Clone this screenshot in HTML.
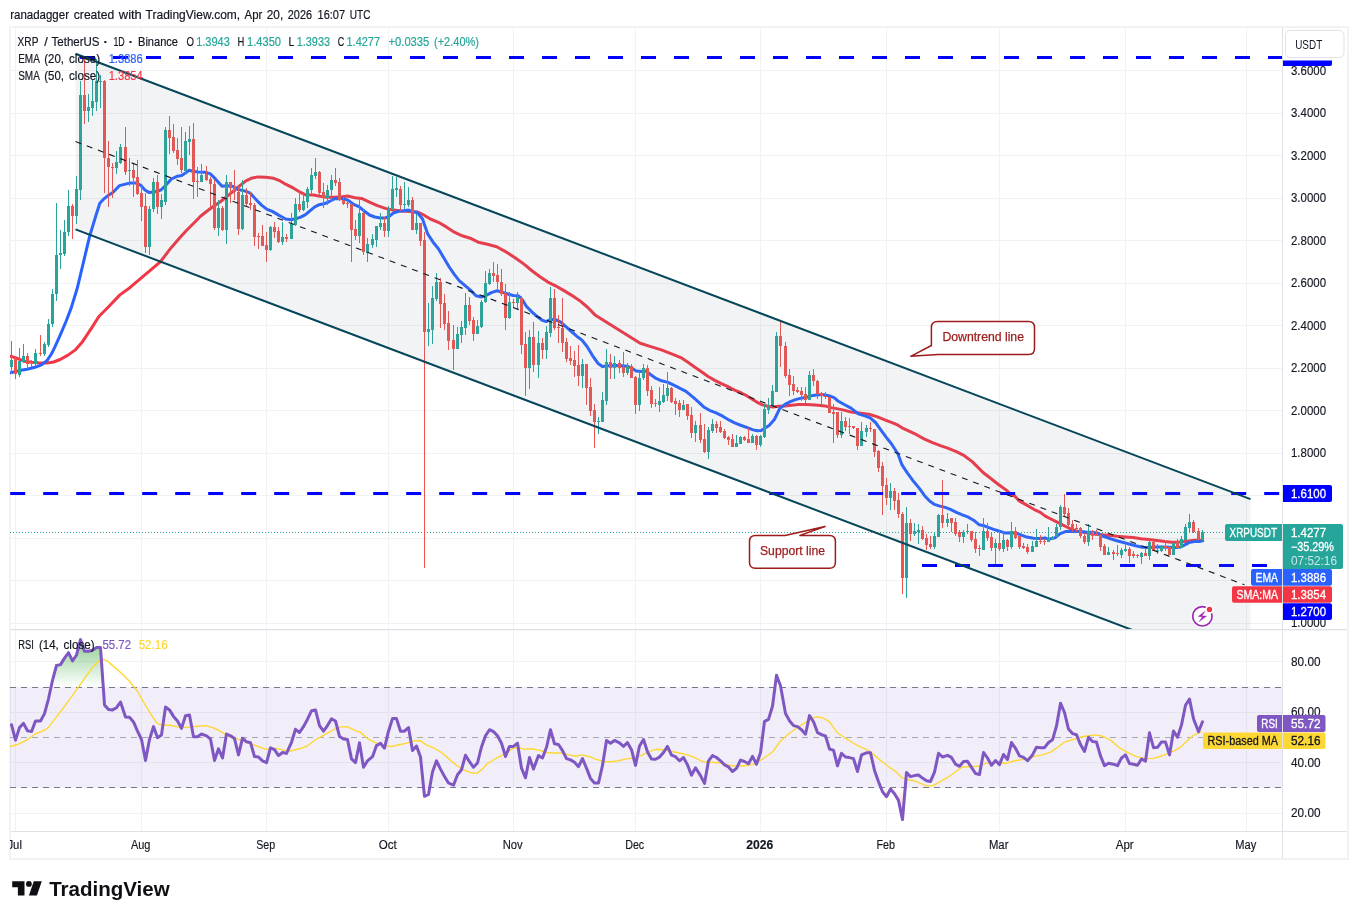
<!DOCTYPE html><html><head><meta charset="utf-8"><title>XRP / TetherUS chart</title>
<style>html,body{margin:0;padding:0;background:#fff;}body{width:1358px;height:919px;overflow:hidden;}svg{display:block;font-family:"Liberation Sans", sans-serif;}text{white-space:pre;}</style></head><body>
<svg width="1358" height="919" viewBox="0 0 1358 919">
<rect width="1358" height="919" fill="#fff"/>
<defs>
<clipPath id="cm"><rect x="10.0" y="27.5" width="1272.5" height="602.0"/></clipPath>
<clipPath id="cr"><rect x="10.0" y="630.5" width="1272.5" height="201.0"/></clipPath>
<clipPath id="ct"><rect x="10.0" y="831.5" width="1272.5" height="27.0"/></clipPath>
<linearGradient id="obg" gradientUnits="userSpaceOnUse" x1="0" y1="611.5" x2="0" y2="687.1"><stop offset="0" stop-color="#4caf50" stop-opacity="1"/><stop offset="1" stop-color="#4caf50" stop-opacity="0"/></linearGradient>
<linearGradient id="osg" gradientUnits="userSpaceOnUse" x1="0" y1="787.7" x2="0" y2="863.2"><stop offset="0" stop-color="#ff5252" stop-opacity="0"/><stop offset="1" stop-color="#ff5252" stop-opacity="1"/></linearGradient>
</defs>
<rect x="10.1" y="27.1" width="1337.9" height="831.9" fill="none" stroke="#f1f2f3" stroke-width="1.9"/>
<text y="18.9" font-size="12.8" fill="#131722" stroke="#131722" stroke-width="0.2"><tspan x="10.2" textLength="58.8" lengthAdjust="spacingAndGlyphs">ranadagger</tspan> <tspan x="73.8" textLength="40.4" lengthAdjust="spacingAndGlyphs">created</tspan> <tspan x="118.8" textLength="23.0" lengthAdjust="spacingAndGlyphs">with</tspan> <tspan x="145.6" textLength="94.6" lengthAdjust="spacingAndGlyphs">TradingView.com,</tspan> <tspan x="244.6" textLength="17.7" lengthAdjust="spacingAndGlyphs">Apr</tspan> <tspan x="266.8" textLength="16.4" lengthAdjust="spacingAndGlyphs">20,</tspan> <tspan x="287.8" textLength="24.2" lengthAdjust="spacingAndGlyphs">2026</tspan> <tspan x="317.6" textLength="27.4" lengthAdjust="spacingAndGlyphs">16:07</tspan> <tspan x="349.8" textLength="20.7" lengthAdjust="spacingAndGlyphs">UTC</tspan></text>
<g stroke="#f0f2f3" stroke-width="1" shape-rendering="crispEdges">
<line x1="15.5" y1="27.5" x2="15.5" y2="831.5"/>
<line x1="141.5" y1="27.5" x2="141.5" y2="831.5"/>
<line x1="266.5" y1="27.5" x2="266.5" y2="831.5"/>
<line x1="388.5" y1="27.5" x2="388.5" y2="831.5"/>
<line x1="513.5" y1="27.5" x2="513.5" y2="831.5"/>
<line x1="635.5" y1="27.5" x2="635.5" y2="831.5"/>
<line x1="760.5" y1="27.5" x2="760.5" y2="831.5"/>
<line x1="886.5" y1="27.5" x2="886.5" y2="831.5"/>
<line x1="999.5" y1="27.5" x2="999.5" y2="831.5"/>
<line x1="1125.5" y1="27.5" x2="1125.5" y2="831.5"/>
<line x1="1246.5" y1="27.5" x2="1246.5" y2="831.5"/>
<line x1="10.0" y1="623.5" x2="1282.5" y2="623.5"/>
<line x1="10.0" y1="580.5" x2="1282.5" y2="580.5"/>
<line x1="10.0" y1="538.5" x2="1282.5" y2="538.5"/>
<line x1="10.0" y1="495.5" x2="1282.5" y2="495.5"/>
<line x1="10.0" y1="453.5" x2="1282.5" y2="453.5"/>
<line x1="10.0" y1="410.5" x2="1282.5" y2="410.5"/>
<line x1="10.0" y1="368.5" x2="1282.5" y2="368.5"/>
<line x1="10.0" y1="325.5" x2="1282.5" y2="325.5"/>
<line x1="10.0" y1="283.5" x2="1282.5" y2="283.5"/>
<line x1="10.0" y1="240.5" x2="1282.5" y2="240.5"/>
<line x1="10.0" y1="198.5" x2="1282.5" y2="198.5"/>
<line x1="10.0" y1="155.5" x2="1282.5" y2="155.5"/>
<line x1="10.0" y1="113.5" x2="1282.5" y2="113.5"/>
<line x1="10.0" y1="70.5" x2="1282.5" y2="70.5"/>
<line x1="10.0" y1="813.5" x2="1282.5" y2="813.5"/>
<line x1="10.0" y1="762.5" x2="1282.5" y2="762.5"/>
<line x1="10.0" y1="712.5" x2="1282.5" y2="712.5"/>
<line x1="10.0" y1="661.5" x2="1282.5" y2="661.5"/>
</g>
<g clip-path="url(#cm)">
<line x1="10.0" y1="532.5" x2="1282.5" y2="532.5" stroke="#26a69a" stroke-width="1" stroke-dasharray="1 2" shape-rendering="crispEdges"/>
<polyline points="10.5,356.2 16.0,357.9 23.8,361.2 31.5,362.3 38.1,362.8 47.0,363.1 53.6,362.0 60.2,359.5 68.0,355.1 75.7,349.6 82.3,341.9 91.2,328.6 98.9,316.5 108.8,306.5 119.9,294.9 129.8,287.7 160.3,261.8 171.4,247.4 180.0,237.5 186.9,230.0 194.2,222.7 200.8,216.0 210.1,208.7 220.7,201.5 231.3,192.8 239.2,186.2 245.9,180.9 251.2,178.3 257.8,176.9 265.7,177.2 273.7,178.3 279.0,180.3 285.6,184.2 293.6,188.2 300.2,192.2 305.5,194.8 313.5,195.1 320.1,196.2 326.7,197.2 334.8,197.2 342.1,196.8 348.3,196.1 354.9,197.8 361.5,198.4 369.5,202.2 377.4,205.7 385.4,208.4 393.3,210.1 401.3,211.0 409.2,211.4 417.2,212.0 422.5,214.3 430.4,219.0 438.4,222.3 446.3,226.9 454.3,232.2 462.2,235.8 470.2,238.2 478.2,242.2 487.4,244.2 496.7,246.8 506.9,252.4 515.4,258.0 523.7,263.9 531.6,270.5 539.6,276.5 547.5,281.8 555.5,285.8 563.5,290.4 571.4,295.1 579.4,300.4 587.3,307.0 595.0,314.9 640.2,343.3 650.8,346.6 661.4,349.9 673.5,354.6 680.8,357.6 688.3,362.5 694.9,367.2 701.5,371.8 708.1,376.5 714.8,380.4 721.4,383.7 728.0,386.7 734.6,390.1 741.3,393.0 746.6,395.7 751.9,399.0 757.2,402.3 762.5,404.9 767.8,406.3 773.1,406.9 778.4,406.3 785.0,405.9 791.6,405.2 798.3,404.6 804.9,404.4 811.5,404.7 818.2,405.2 824.8,405.9 831.4,407.6 838.0,408.9 844.8,410.4 851.5,412.1 855.0,412.6 860.9,413.3 868.9,414.3 876.8,416.6 884.8,419.9 892.7,422.8 898.0,425.2 902.0,427.8 908.6,430.8 916.6,434.7 924.5,439.1 932.5,442.7 940.4,445.7 948.4,448.4 956.3,451.7 964.3,455.7 972.2,461.6 977.5,466.9 982.8,472.2 990.8,478.5 998.8,484.8 1006.7,490.4 1010.8,494.6 1014.7,496.1 1018.8,500.6 1025.9,504.6 1035.5,510.2 1040.3,512.4 1045.3,516.1 1050.9,519.0 1056.2,521.7 1061.5,524.3 1066.8,527.0 1072.1,529.6 1077.4,531.2 1084.0,532.3 1090.7,533.4 1097.3,534.3 1103.9,534.9 1110.6,535.6 1117.2,536.3 1125.1,536.9 1133.1,537.6 1141.0,538.7 1149.0,539.6 1156.9,540.5 1164.9,541.6 1171.5,542.2 1178.2,542.2 1183.5,541.6 1188.8,540.9 1194.1,540.3 1199.4,540.3 1202.7,540.5" fill="none" stroke="#f23645" stroke-width="3.0" stroke-linejoin="round" stroke-linecap="round" />
<polyline points="10.5,372.8 19.4,370.6 27.1,369.2 34.8,367.3 41.5,364.8 47.0,360.6 51.4,354.0 54.7,347.4 60.2,335.2 65.8,322.0 71.3,307.6 77.1,288.8 89.6,236.4 96.3,214.3 99.8,203.3 104.0,198.8 107.3,196.1 112.8,192.5 119.5,185.6 129.4,183.1 136.0,183.1 140.5,185.1 144.9,190.0 149.3,192.6 154.8,191.7 160.9,190.0 166.0,185.1 171.4,179.0 177.5,176.2 181.6,175.6 185.5,173.0 188.9,170.3 192.8,171.2 198.1,172.0 204.8,172.3 210.1,173.6 215.4,178.9 222.0,186.2 227.3,185.8 232.6,186.2 237.9,189.5 244.5,190.9 249.8,192.8 256.5,200.1 261.8,205.4 267.1,209.4 272.4,211.4 279.0,215.4 285.6,219.0 290.9,219.7 295.6,218.7 300.2,217.4 305.5,214.7 310.8,210.1 314.8,206.8 318.8,204.8 324.1,203.8 329.4,201.5 334.8,198.7 341.5,198.5 348.3,200.4 353.6,204.4 358.9,206.7 364.2,211.0 369.5,215.0 374.8,217.0 380.1,217.9 385.4,217.9 389.3,216.3 393.3,213.0 398.6,211.3 403.9,210.8 408.6,210.1 413.2,211.7 417.2,212.4 422.5,219.0 427.8,234.2 433.1,242.2 438.4,248.8 443.9,258.0 449.2,267.0 454.5,274.6 459.2,280.6 465.4,285.8 470.7,290.4 476.0,295.7 481.3,297.1 486.6,295.1 491.9,292.4 497.2,290.8 502.5,292.4 507.8,294.0 513.1,295.5 518.4,295.7 522.4,299.7 526.3,306.3 531.6,311.6 536.9,316.3 542.2,320.3 546.2,321.6 550.2,319.6 555.5,319.6 560.8,322.2 566.1,326.9 571.4,331.5 576.7,336.2 582.0,340.1 587.2,346.7 592.5,355.6 597.8,363.2 602.4,366.5 608.4,365.8 615.0,365.4 621.6,365.8 628.3,366.5 632.2,368.5 636.2,371.1 641.5,371.5 646.2,371.1 650.8,374.7 656.1,378.4 661.4,380.8 668.0,382.4 674.8,385.7 680.1,388.4 686.0,391.4 693.6,397.7 698.9,402.3 704.2,407.3 709.5,410.3 716.1,412.9 722.7,416.2 729.3,420.2 734.6,422.8 741.3,425.5 747.9,427.9 753.2,429.9 757.2,430.8 761.2,430.5 765.1,428.1 769.1,425.5 774.4,419.5 779.7,408.6 785.0,404.3 790.3,401.6 795.6,399.6 802.2,397.9 807.5,397.0 812.8,395.4 818.2,394.7 823.5,394.7 828.8,395.7 834.1,397.7 838.0,401.0 844.2,404.5 851.0,408.1 858.3,413.9 864.9,415.9 870.2,417.9 875.5,422.5 880.8,429.8 886.1,437.1 891.4,443.7 898.0,454.0 902.0,464.9 907.3,472.9 912.6,480.2 919.2,488.1 924.6,495.7 929.9,501.3 934.5,504.4 939.8,506.1 945.1,507.4 950.4,509.3 956.4,512.3 962.4,514.9 967.7,516.9 973.6,520.2 979.0,524.7 984.3,525.8 989.6,527.8 994.9,529.8 1000.2,531.4 1005.5,533.1 1010.8,532.7 1016.1,533.1 1021.4,535.1 1026.7,537.1 1033.5,538.3 1040.1,538.5 1045.0,538.0 1048.3,539.2 1054.9,537.9 1060.2,533.6 1065.5,531.6 1072.1,531.2 1078.7,531.4 1085.4,532.0 1092.0,532.3 1097.3,533.0 1102.6,536.0 1109.2,538.3 1115.9,540.5 1122.5,542.2 1129.1,544.0 1135.7,545.8 1142.4,547.3 1149.0,547.5 1155.6,547.1 1162.2,547.1 1168.9,547.3 1175.5,547.5 1180.8,546.9 1184.8,544.9 1188.8,542.6 1194.1,541.6 1199.4,541.6 1202.7,540.9" fill="none" stroke="#2962ff" stroke-width="3.0" stroke-linejoin="round" stroke-linecap="round" />
<g shape-rendering="crispEdges">
<rect x="11" y="341" width="1" height="33" fill="#26a69a"/>
<rect x="10" y="360" width="3" height="7" fill="#26a69a"/>
<rect x="15" y="357" width="1" height="22" fill="#ef5350"/>
<rect x="14" y="359" width="3" height="15" fill="#ef5350"/>
<rect x="19" y="348" width="1" height="29" fill="#26a69a"/>
<rect x="18" y="361" width="3" height="14" fill="#26a69a"/>
<rect x="23" y="344" width="1" height="19" fill="#26a69a"/>
<rect x="22" y="356" width="3" height="6" fill="#26a69a"/>
<rect x="27" y="353" width="1" height="16" fill="#ef5350"/>
<rect x="26" y="356" width="3" height="8" fill="#ef5350"/>
<rect x="31" y="360" width="1" height="7" fill="#ef5350"/>
<rect x="30" y="362" width="3" height="1" fill="#ef5350"/>
<rect x="35" y="349" width="1" height="17" fill="#26a69a"/>
<rect x="34" y="353" width="3" height="11" fill="#26a69a"/>
<rect x="40" y="335" width="1" height="21" fill="#ef5350"/>
<rect x="39" y="353" width="3" height="1" fill="#ef5350"/>
<rect x="44" y="342" width="1" height="14" fill="#26a69a"/>
<rect x="43" y="344" width="3" height="10" fill="#26a69a"/>
<rect x="48" y="319" width="1" height="28" fill="#26a69a"/>
<rect x="47" y="324" width="3" height="21" fill="#26a69a"/>
<rect x="52" y="289" width="1" height="38" fill="#26a69a"/>
<rect x="51" y="294" width="3" height="30" fill="#26a69a"/>
<rect x="56" y="203" width="1" height="98" fill="#26a69a"/>
<rect x="55" y="255" width="3" height="39" fill="#26a69a"/>
<rect x="60" y="230" width="1" height="39" fill="#26a69a"/>
<rect x="59" y="253" width="3" height="2" fill="#26a69a"/>
<rect x="64" y="220" width="1" height="36" fill="#26a69a"/>
<rect x="63" y="232" width="3" height="22" fill="#26a69a"/>
<rect x="68" y="190" width="1" height="46" fill="#26a69a"/>
<rect x="67" y="206" width="3" height="26" fill="#26a69a"/>
<rect x="72" y="204" width="1" height="35" fill="#ef5350"/>
<rect x="71" y="206" width="3" height="10" fill="#ef5350"/>
<rect x="76" y="176" width="1" height="48" fill="#26a69a"/>
<rect x="75" y="189" width="3" height="27" fill="#26a69a"/>
<rect x="80" y="81" width="1" height="119" fill="#26a69a"/>
<rect x="79" y="95" width="3" height="95" fill="#26a69a"/>
<rect x="84" y="57" width="1" height="67" fill="#ef5350"/>
<rect x="83" y="95" width="3" height="16" fill="#ef5350"/>
<rect x="88" y="94" width="1" height="28" fill="#26a69a"/>
<rect x="87" y="107" width="3" height="4" fill="#26a69a"/>
<rect x="92" y="80" width="1" height="36" fill="#26a69a"/>
<rect x="91" y="101" width="3" height="7" fill="#26a69a"/>
<rect x="96" y="59" width="1" height="52" fill="#26a69a"/>
<rect x="95" y="81" width="3" height="21" fill="#26a69a"/>
<rect x="100" y="75" width="1" height="33" fill="#26a69a"/>
<rect x="99" y="81" width="3" height="1" fill="#26a69a"/>
<rect x="104" y="80" width="1" height="113" fill="#ef5350"/>
<rect x="103" y="81" width="3" height="77" fill="#ef5350"/>
<rect x="108" y="141" width="1" height="66" fill="#ef5350"/>
<rect x="107" y="158" width="3" height="9" fill="#ef5350"/>
<rect x="112" y="163" width="1" height="35" fill="#ef5350"/>
<rect x="111" y="167" width="3" height="1" fill="#ef5350"/>
<rect x="116" y="151" width="1" height="23" fill="#26a69a"/>
<rect x="115" y="162" width="3" height="6" fill="#26a69a"/>
<rect x="120" y="144" width="1" height="20" fill="#26a69a"/>
<rect x="119" y="147" width="3" height="16" fill="#26a69a"/>
<rect x="125" y="127" width="1" height="48" fill="#ef5350"/>
<rect x="124" y="147" width="3" height="25" fill="#ef5350"/>
<rect x="129" y="158" width="1" height="28" fill="#26a69a"/>
<rect x="128" y="170" width="3" height="1" fill="#26a69a"/>
<rect x="133" y="163" width="1" height="34" fill="#ef5350"/>
<rect x="132" y="170" width="3" height="8" fill="#ef5350"/>
<rect x="137" y="160" width="1" height="35" fill="#ef5350"/>
<rect x="136" y="177" width="3" height="17" fill="#ef5350"/>
<rect x="141" y="186" width="1" height="35" fill="#ef5350"/>
<rect x="140" y="193" width="3" height="14" fill="#ef5350"/>
<rect x="145" y="193" width="1" height="60" fill="#ef5350"/>
<rect x="144" y="206" width="3" height="41" fill="#ef5350"/>
<rect x="149" y="206" width="1" height="49" fill="#26a69a"/>
<rect x="148" y="209" width="3" height="38" fill="#26a69a"/>
<rect x="153" y="178" width="1" height="34" fill="#26a69a"/>
<rect x="152" y="182" width="3" height="27" fill="#26a69a"/>
<rect x="157" y="175" width="1" height="39" fill="#ef5350"/>
<rect x="156" y="182" width="3" height="25" fill="#ef5350"/>
<rect x="161" y="194" width="1" height="25" fill="#26a69a"/>
<rect x="160" y="200" width="3" height="7" fill="#26a69a"/>
<rect x="165" y="127" width="1" height="78" fill="#26a69a"/>
<rect x="164" y="130" width="3" height="72" fill="#26a69a"/>
<rect x="169" y="116" width="1" height="38" fill="#ef5350"/>
<rect x="168" y="130" width="3" height="8" fill="#ef5350"/>
<rect x="173" y="124" width="1" height="29" fill="#ef5350"/>
<rect x="172" y="137" width="3" height="14" fill="#ef5350"/>
<rect x="177" y="138" width="1" height="27" fill="#ef5350"/>
<rect x="176" y="150" width="3" height="9" fill="#ef5350"/>
<rect x="181" y="127" width="1" height="46" fill="#ef5350"/>
<rect x="180" y="158" width="3" height="12" fill="#ef5350"/>
<rect x="185" y="132" width="1" height="42" fill="#26a69a"/>
<rect x="184" y="141" width="3" height="30" fill="#26a69a"/>
<rect x="189" y="126" width="1" height="29" fill="#26a69a"/>
<rect x="188" y="139" width="3" height="3" fill="#26a69a"/>
<rect x="193" y="123" width="1" height="76" fill="#ef5350"/>
<rect x="192" y="139" width="3" height="43" fill="#ef5350"/>
<rect x="197" y="167" width="1" height="30" fill="#ef5350"/>
<rect x="196" y="181" width="3" height="1" fill="#ef5350"/>
<rect x="201" y="164" width="1" height="18" fill="#26a69a"/>
<rect x="200" y="175" width="3" height="7" fill="#26a69a"/>
<rect x="206" y="166" width="1" height="15" fill="#ef5350"/>
<rect x="205" y="174" width="3" height="6" fill="#ef5350"/>
<rect x="210" y="177" width="1" height="32" fill="#ef5350"/>
<rect x="209" y="179" width="3" height="5" fill="#ef5350"/>
<rect x="214" y="180" width="1" height="50" fill="#ef5350"/>
<rect x="213" y="184" width="3" height="44" fill="#ef5350"/>
<rect x="218" y="200" width="1" height="36" fill="#26a69a"/>
<rect x="217" y="208" width="3" height="20" fill="#26a69a"/>
<rect x="222" y="206" width="1" height="25" fill="#ef5350"/>
<rect x="221" y="208" width="3" height="22" fill="#ef5350"/>
<rect x="226" y="175" width="1" height="69" fill="#26a69a"/>
<rect x="225" y="182" width="3" height="48" fill="#26a69a"/>
<rect x="230" y="182" width="1" height="21" fill="#ef5350"/>
<rect x="229" y="182" width="3" height="6" fill="#ef5350"/>
<rect x="234" y="170" width="1" height="30" fill="#ef5350"/>
<rect x="233" y="187" width="3" height="5" fill="#ef5350"/>
<rect x="238" y="186" width="1" height="49" fill="#ef5350"/>
<rect x="237" y="192" width="3" height="37" fill="#ef5350"/>
<rect x="242" y="180" width="1" height="50" fill="#26a69a"/>
<rect x="241" y="195" width="3" height="34" fill="#26a69a"/>
<rect x="246" y="188" width="1" height="18" fill="#ef5350"/>
<rect x="245" y="195" width="3" height="9" fill="#ef5350"/>
<rect x="250" y="192" width="1" height="18" fill="#ef5350"/>
<rect x="249" y="203" width="3" height="2" fill="#ef5350"/>
<rect x="254" y="203" width="1" height="43" fill="#ef5350"/>
<rect x="253" y="205" width="3" height="32" fill="#ef5350"/>
<rect x="258" y="233" width="1" height="16" fill="#ef5350"/>
<rect x="257" y="236" width="3" height="1" fill="#ef5350"/>
<rect x="262" y="225" width="1" height="21" fill="#ef5350"/>
<rect x="261" y="236" width="3" height="10" fill="#ef5350"/>
<rect x="266" y="232" width="1" height="30" fill="#ef5350"/>
<rect x="265" y="245" width="3" height="5" fill="#ef5350"/>
<rect x="270" y="226" width="1" height="25" fill="#26a69a"/>
<rect x="269" y="227" width="3" height="23" fill="#26a69a"/>
<rect x="274" y="222" width="1" height="16" fill="#ef5350"/>
<rect x="273" y="227" width="3" height="5" fill="#ef5350"/>
<rect x="278" y="227" width="1" height="16" fill="#ef5350"/>
<rect x="277" y="231" width="3" height="11" fill="#ef5350"/>
<rect x="282" y="222" width="1" height="23" fill="#26a69a"/>
<rect x="281" y="237" width="3" height="5" fill="#26a69a"/>
<rect x="286" y="234" width="1" height="8" fill="#ef5350"/>
<rect x="285" y="237" width="3" height="2" fill="#ef5350"/>
<rect x="291" y="213" width="1" height="26" fill="#26a69a"/>
<rect x="290" y="224" width="3" height="15" fill="#26a69a"/>
<rect x="295" y="198" width="1" height="28" fill="#26a69a"/>
<rect x="294" y="204" width="3" height="21" fill="#26a69a"/>
<rect x="299" y="191" width="1" height="21" fill="#ef5350"/>
<rect x="298" y="204" width="3" height="6" fill="#ef5350"/>
<rect x="303" y="192" width="1" height="19" fill="#26a69a"/>
<rect x="302" y="201" width="3" height="9" fill="#26a69a"/>
<rect x="307" y="187" width="1" height="21" fill="#26a69a"/>
<rect x="306" y="189" width="3" height="13" fill="#26a69a"/>
<rect x="311" y="168" width="1" height="26" fill="#26a69a"/>
<rect x="310" y="175" width="3" height="15" fill="#26a69a"/>
<rect x="315" y="158" width="1" height="21" fill="#26a69a"/>
<rect x="314" y="172" width="3" height="4" fill="#26a69a"/>
<rect x="319" y="171" width="1" height="24" fill="#ef5350"/>
<rect x="318" y="172" width="3" height="21" fill="#ef5350"/>
<rect x="323" y="183" width="1" height="25" fill="#ef5350"/>
<rect x="322" y="192" width="3" height="6" fill="#ef5350"/>
<rect x="327" y="185" width="1" height="20" fill="#26a69a"/>
<rect x="326" y="190" width="3" height="8" fill="#26a69a"/>
<rect x="331" y="175" width="1" height="27" fill="#26a69a"/>
<rect x="330" y="180" width="3" height="10" fill="#26a69a"/>
<rect x="335" y="168" width="1" height="18" fill="#ef5350"/>
<rect x="334" y="180" width="3" height="3" fill="#ef5350"/>
<rect x="339" y="178" width="1" height="23" fill="#ef5350"/>
<rect x="338" y="182" width="3" height="18" fill="#ef5350"/>
<rect x="343" y="197" width="1" height="8" fill="#ef5350"/>
<rect x="342" y="200" width="3" height="4" fill="#ef5350"/>
<rect x="347" y="196" width="1" height="12" fill="#ef5350"/>
<rect x="346" y="203" width="3" height="1" fill="#ef5350"/>
<rect x="351" y="203" width="1" height="59" fill="#ef5350"/>
<rect x="350" y="204" width="3" height="26" fill="#ef5350"/>
<rect x="355" y="220" width="1" height="20" fill="#ef5350"/>
<rect x="354" y="229" width="3" height="7" fill="#ef5350"/>
<rect x="359" y="199" width="1" height="44" fill="#26a69a"/>
<rect x="358" y="213" width="3" height="23" fill="#26a69a"/>
<rect x="363" y="209" width="1" height="46" fill="#ef5350"/>
<rect x="362" y="213" width="3" height="39" fill="#ef5350"/>
<rect x="367" y="238" width="1" height="24" fill="#26a69a"/>
<rect x="366" y="244" width="3" height="9" fill="#26a69a"/>
<rect x="372" y="234" width="1" height="14" fill="#26a69a"/>
<rect x="371" y="239" width="3" height="6" fill="#26a69a"/>
<rect x="376" y="226" width="1" height="21" fill="#26a69a"/>
<rect x="375" y="226" width="3" height="14" fill="#26a69a"/>
<rect x="380" y="213" width="1" height="17" fill="#26a69a"/>
<rect x="379" y="223" width="3" height="4" fill="#26a69a"/>
<rect x="384" y="217" width="1" height="20" fill="#ef5350"/>
<rect x="383" y="223" width="3" height="8" fill="#ef5350"/>
<rect x="388" y="206" width="1" height="31" fill="#26a69a"/>
<rect x="387" y="209" width="3" height="22" fill="#26a69a"/>
<rect x="392" y="176" width="1" height="34" fill="#26a69a"/>
<rect x="391" y="189" width="3" height="21" fill="#26a69a"/>
<rect x="396" y="177" width="1" height="20" fill="#26a69a"/>
<rect x="395" y="188" width="3" height="2" fill="#26a69a"/>
<rect x="400" y="186" width="1" height="25" fill="#ef5350"/>
<rect x="399" y="189" width="3" height="16" fill="#ef5350"/>
<rect x="404" y="182" width="1" height="27" fill="#26a69a"/>
<rect x="403" y="204" width="3" height="1" fill="#26a69a"/>
<rect x="408" y="187" width="1" height="20" fill="#26a69a"/>
<rect x="407" y="200" width="3" height="5" fill="#26a69a"/>
<rect x="412" y="197" width="1" height="33" fill="#ef5350"/>
<rect x="411" y="200" width="3" height="30" fill="#ef5350"/>
<rect x="416" y="214" width="1" height="20" fill="#26a69a"/>
<rect x="415" y="223" width="3" height="7" fill="#26a69a"/>
<rect x="420" y="223" width="1" height="23" fill="#ef5350"/>
<rect x="419" y="223" width="3" height="18" fill="#ef5350"/>
<rect x="424" y="232" width="1" height="336" fill="#ef5350"/>
<rect x="423" y="240" width="3" height="92" fill="#ef5350"/>
<rect x="428" y="303" width="1" height="43" fill="#26a69a"/>
<rect x="427" y="329" width="3" height="3" fill="#26a69a"/>
<rect x="432" y="286" width="1" height="58" fill="#26a69a"/>
<rect x="431" y="298" width="3" height="32" fill="#26a69a"/>
<rect x="436" y="273" width="1" height="28" fill="#26a69a"/>
<rect x="435" y="282" width="3" height="17" fill="#26a69a"/>
<rect x="440" y="278" width="1" height="50" fill="#ef5350"/>
<rect x="439" y="282" width="3" height="22" fill="#ef5350"/>
<rect x="444" y="294" width="1" height="36" fill="#ef5350"/>
<rect x="443" y="303" width="3" height="21" fill="#ef5350"/>
<rect x="448" y="311" width="1" height="39" fill="#ef5350"/>
<rect x="447" y="323" width="3" height="18" fill="#ef5350"/>
<rect x="453" y="325" width="1" height="45" fill="#ef5350"/>
<rect x="452" y="340" width="3" height="9" fill="#ef5350"/>
<rect x="457" y="327" width="1" height="22" fill="#26a69a"/>
<rect x="456" y="334" width="3" height="15" fill="#26a69a"/>
<rect x="461" y="321" width="1" height="22" fill="#26a69a"/>
<rect x="460" y="327" width="3" height="8" fill="#26a69a"/>
<rect x="465" y="293" width="1" height="42" fill="#26a69a"/>
<rect x="464" y="305" width="3" height="23" fill="#26a69a"/>
<rect x="469" y="297" width="1" height="28" fill="#ef5350"/>
<rect x="468" y="305" width="3" height="16" fill="#ef5350"/>
<rect x="473" y="317" width="1" height="24" fill="#ef5350"/>
<rect x="472" y="320" width="3" height="14" fill="#ef5350"/>
<rect x="477" y="320" width="1" height="14" fill="#26a69a"/>
<rect x="476" y="326" width="3" height="8" fill="#26a69a"/>
<rect x="481" y="300" width="1" height="28" fill="#26a69a"/>
<rect x="480" y="302" width="3" height="25" fill="#26a69a"/>
<rect x="485" y="271" width="1" height="32" fill="#26a69a"/>
<rect x="484" y="283" width="3" height="19" fill="#26a69a"/>
<rect x="489" y="269" width="1" height="16" fill="#26a69a"/>
<rect x="488" y="273" width="3" height="11" fill="#26a69a"/>
<rect x="493" y="262" width="1" height="20" fill="#ef5350"/>
<rect x="492" y="273" width="3" height="3" fill="#ef5350"/>
<rect x="497" y="264" width="1" height="26" fill="#ef5350"/>
<rect x="496" y="275" width="3" height="7" fill="#ef5350"/>
<rect x="501" y="269" width="1" height="27" fill="#ef5350"/>
<rect x="500" y="282" width="3" height="12" fill="#ef5350"/>
<rect x="505" y="284" width="1" height="46" fill="#ef5350"/>
<rect x="504" y="293" width="3" height="25" fill="#ef5350"/>
<rect x="509" y="292" width="1" height="27" fill="#26a69a"/>
<rect x="508" y="302" width="3" height="16" fill="#26a69a"/>
<rect x="513" y="299" width="1" height="9" fill="#ef5350"/>
<rect x="512" y="302" width="3" height="1" fill="#ef5350"/>
<rect x="517" y="292" width="1" height="17" fill="#26a69a"/>
<rect x="516" y="297" width="3" height="6" fill="#26a69a"/>
<rect x="521" y="296" width="1" height="58" fill="#ef5350"/>
<rect x="520" y="298" width="3" height="47" fill="#ef5350"/>
<rect x="525" y="332" width="1" height="64" fill="#ef5350"/>
<rect x="524" y="344" width="3" height="24" fill="#ef5350"/>
<rect x="529" y="330" width="1" height="59" fill="#26a69a"/>
<rect x="528" y="337" width="3" height="31" fill="#26a69a"/>
<rect x="533" y="322" width="1" height="50" fill="#ef5350"/>
<rect x="532" y="337" width="3" height="28" fill="#ef5350"/>
<rect x="538" y="331" width="1" height="47" fill="#26a69a"/>
<rect x="537" y="343" width="3" height="22" fill="#26a69a"/>
<rect x="542" y="338" width="1" height="21" fill="#ef5350"/>
<rect x="541" y="343" width="3" height="7" fill="#ef5350"/>
<rect x="546" y="326" width="1" height="33" fill="#26a69a"/>
<rect x="545" y="332" width="3" height="18" fill="#26a69a"/>
<rect x="550" y="287" width="1" height="50" fill="#26a69a"/>
<rect x="549" y="298" width="3" height="35" fill="#26a69a"/>
<rect x="554" y="289" width="1" height="41" fill="#ef5350"/>
<rect x="553" y="298" width="3" height="30" fill="#ef5350"/>
<rect x="558" y="315" width="1" height="28" fill="#ef5350"/>
<rect x="557" y="327" width="3" height="1" fill="#ef5350"/>
<rect x="562" y="298" width="1" height="54" fill="#ef5350"/>
<rect x="561" y="328" width="3" height="15" fill="#ef5350"/>
<rect x="566" y="338" width="1" height="24" fill="#ef5350"/>
<rect x="565" y="342" width="3" height="17" fill="#ef5350"/>
<rect x="570" y="346" width="1" height="19" fill="#ef5350"/>
<rect x="569" y="358" width="3" height="3" fill="#ef5350"/>
<rect x="574" y="351" width="1" height="26" fill="#ef5350"/>
<rect x="573" y="360" width="3" height="6" fill="#ef5350"/>
<rect x="578" y="345" width="1" height="41" fill="#ef5350"/>
<rect x="577" y="365" width="3" height="11" fill="#ef5350"/>
<rect x="582" y="359" width="1" height="29" fill="#26a69a"/>
<rect x="581" y="364" width="3" height="12" fill="#26a69a"/>
<rect x="586" y="364" width="1" height="41" fill="#ef5350"/>
<rect x="585" y="364" width="3" height="24" fill="#ef5350"/>
<rect x="590" y="378" width="1" height="38" fill="#ef5350"/>
<rect x="589" y="387" width="3" height="24" fill="#ef5350"/>
<rect x="594" y="404" width="1" height="44" fill="#ef5350"/>
<rect x="593" y="410" width="3" height="12" fill="#ef5350"/>
<rect x="598" y="417" width="1" height="17" fill="#26a69a"/>
<rect x="597" y="421" width="3" height="1" fill="#26a69a"/>
<rect x="602" y="392" width="1" height="30" fill="#26a69a"/>
<rect x="601" y="400" width="3" height="22" fill="#26a69a"/>
<rect x="606" y="349" width="1" height="56" fill="#26a69a"/>
<rect x="605" y="362" width="3" height="39" fill="#26a69a"/>
<rect x="610" y="354" width="1" height="25" fill="#ef5350"/>
<rect x="609" y="362" width="3" height="6" fill="#ef5350"/>
<rect x="614" y="356" width="1" height="23" fill="#26a69a"/>
<rect x="613" y="363" width="3" height="5" fill="#26a69a"/>
<rect x="619" y="360" width="1" height="13" fill="#ef5350"/>
<rect x="618" y="363" width="3" height="5" fill="#ef5350"/>
<rect x="623" y="352" width="1" height="25" fill="#ef5350"/>
<rect x="622" y="367" width="3" height="6" fill="#ef5350"/>
<rect x="627" y="363" width="1" height="12" fill="#26a69a"/>
<rect x="626" y="366" width="3" height="7" fill="#26a69a"/>
<rect x="631" y="364" width="1" height="14" fill="#ef5350"/>
<rect x="630" y="366" width="3" height="12" fill="#ef5350"/>
<rect x="635" y="376" width="1" height="38" fill="#ef5350"/>
<rect x="634" y="377" width="3" height="28" fill="#ef5350"/>
<rect x="639" y="371" width="1" height="40" fill="#26a69a"/>
<rect x="638" y="378" width="3" height="27" fill="#26a69a"/>
<rect x="643" y="364" width="1" height="16" fill="#26a69a"/>
<rect x="642" y="368" width="3" height="10" fill="#26a69a"/>
<rect x="647" y="365" width="1" height="31" fill="#ef5350"/>
<rect x="646" y="368" width="3" height="23" fill="#ef5350"/>
<rect x="651" y="386" width="1" height="22" fill="#ef5350"/>
<rect x="650" y="390" width="3" height="14" fill="#ef5350"/>
<rect x="655" y="399" width="1" height="8" fill="#ef5350"/>
<rect x="654" y="403" width="3" height="1" fill="#ef5350"/>
<rect x="659" y="387" width="1" height="25" fill="#26a69a"/>
<rect x="658" y="401" width="3" height="4" fill="#26a69a"/>
<rect x="663" y="384" width="1" height="19" fill="#26a69a"/>
<rect x="662" y="395" width="3" height="7" fill="#26a69a"/>
<rect x="667" y="372" width="1" height="29" fill="#26a69a"/>
<rect x="666" y="388" width="3" height="8" fill="#26a69a"/>
<rect x="671" y="387" width="1" height="16" fill="#ef5350"/>
<rect x="670" y="388" width="3" height="14" fill="#ef5350"/>
<rect x="675" y="398" width="1" height="17" fill="#ef5350"/>
<rect x="674" y="401" width="3" height="3" fill="#ef5350"/>
<rect x="679" y="400" width="1" height="17" fill="#ef5350"/>
<rect x="678" y="403" width="3" height="7" fill="#ef5350"/>
<rect x="683" y="400" width="1" height="10" fill="#26a69a"/>
<rect x="682" y="405" width="3" height="5" fill="#26a69a"/>
<rect x="687" y="404" width="1" height="16" fill="#ef5350"/>
<rect x="686" y="404" width="3" height="12" fill="#ef5350"/>
<rect x="691" y="407" width="1" height="31" fill="#ef5350"/>
<rect x="690" y="415" width="3" height="18" fill="#ef5350"/>
<rect x="695" y="421" width="1" height="21" fill="#26a69a"/>
<rect x="694" y="425" width="3" height="8" fill="#26a69a"/>
<rect x="700" y="413" width="1" height="30" fill="#ef5350"/>
<rect x="699" y="425" width="3" height="15" fill="#ef5350"/>
<rect x="704" y="424" width="1" height="29" fill="#ef5350"/>
<rect x="703" y="439" width="3" height="13" fill="#ef5350"/>
<rect x="708" y="427" width="1" height="32" fill="#26a69a"/>
<rect x="707" y="430" width="3" height="22" fill="#26a69a"/>
<rect x="712" y="419" width="1" height="14" fill="#26a69a"/>
<rect x="711" y="424" width="3" height="7" fill="#26a69a"/>
<rect x="716" y="421" width="1" height="12" fill="#ef5350"/>
<rect x="715" y="424" width="3" height="4" fill="#ef5350"/>
<rect x="720" y="421" width="1" height="12" fill="#ef5350"/>
<rect x="719" y="427" width="3" height="5" fill="#ef5350"/>
<rect x="724" y="429" width="1" height="10" fill="#ef5350"/>
<rect x="723" y="431" width="3" height="7" fill="#ef5350"/>
<rect x="728" y="436" width="1" height="9" fill="#ef5350"/>
<rect x="727" y="437" width="3" height="3" fill="#ef5350"/>
<rect x="732" y="434" width="1" height="13" fill="#ef5350"/>
<rect x="731" y="439" width="3" height="8" fill="#ef5350"/>
<rect x="736" y="435" width="1" height="12" fill="#26a69a"/>
<rect x="735" y="443" width="3" height="4" fill="#26a69a"/>
<rect x="740" y="436" width="1" height="8" fill="#26a69a"/>
<rect x="739" y="437" width="3" height="7" fill="#26a69a"/>
<rect x="744" y="436" width="1" height="5" fill="#ef5350"/>
<rect x="743" y="437" width="3" height="3" fill="#ef5350"/>
<rect x="748" y="428" width="1" height="15" fill="#ef5350"/>
<rect x="747" y="439" width="3" height="4" fill="#ef5350"/>
<rect x="752" y="434" width="1" height="9" fill="#26a69a"/>
<rect x="751" y="436" width="3" height="7" fill="#26a69a"/>
<rect x="756" y="435" width="1" height="15" fill="#ef5350"/>
<rect x="755" y="436" width="3" height="9" fill="#ef5350"/>
<rect x="760" y="435" width="1" height="12" fill="#26a69a"/>
<rect x="759" y="436" width="3" height="9" fill="#26a69a"/>
<rect x="764" y="404" width="1" height="34" fill="#26a69a"/>
<rect x="763" y="409" width="3" height="28" fill="#26a69a"/>
<rect x="768" y="398" width="1" height="16" fill="#26a69a"/>
<rect x="767" y="405" width="3" height="5" fill="#26a69a"/>
<rect x="772" y="385" width="1" height="22" fill="#26a69a"/>
<rect x="771" y="391" width="3" height="16" fill="#26a69a"/>
<rect x="776" y="332" width="1" height="60" fill="#26a69a"/>
<rect x="775" y="336" width="3" height="56" fill="#26a69a"/>
<rect x="780" y="321" width="1" height="46" fill="#ef5350"/>
<rect x="779" y="336" width="3" height="10" fill="#ef5350"/>
<rect x="785" y="342" width="1" height="36" fill="#ef5350"/>
<rect x="784" y="346" width="3" height="30" fill="#ef5350"/>
<rect x="789" y="369" width="1" height="27" fill="#ef5350"/>
<rect x="788" y="375" width="3" height="10" fill="#ef5350"/>
<rect x="793" y="376" width="1" height="19" fill="#ef5350"/>
<rect x="792" y="384" width="3" height="7" fill="#ef5350"/>
<rect x="797" y="387" width="1" height="6" fill="#ef5350"/>
<rect x="796" y="390" width="3" height="2" fill="#ef5350"/>
<rect x="801" y="387" width="1" height="14" fill="#ef5350"/>
<rect x="800" y="391" width="3" height="4" fill="#ef5350"/>
<rect x="805" y="387" width="1" height="16" fill="#ef5350"/>
<rect x="804" y="394" width="3" height="6" fill="#ef5350"/>
<rect x="809" y="371" width="1" height="29" fill="#26a69a"/>
<rect x="808" y="375" width="3" height="25" fill="#26a69a"/>
<rect x="813" y="369" width="1" height="17" fill="#ef5350"/>
<rect x="812" y="375" width="3" height="6" fill="#ef5350"/>
<rect x="817" y="380" width="1" height="19" fill="#ef5350"/>
<rect x="816" y="381" width="3" height="13" fill="#ef5350"/>
<rect x="821" y="392" width="1" height="13" fill="#ef5350"/>
<rect x="820" y="393" width="3" height="3" fill="#ef5350"/>
<rect x="825" y="392" width="1" height="7" fill="#ef5350"/>
<rect x="824" y="396" width="3" height="1" fill="#ef5350"/>
<rect x="829" y="396" width="1" height="17" fill="#ef5350"/>
<rect x="828" y="397" width="3" height="16" fill="#ef5350"/>
<rect x="833" y="404" width="1" height="39" fill="#ef5350"/>
<rect x="832" y="412" width="3" height="2" fill="#ef5350"/>
<rect x="837" y="412" width="1" height="26" fill="#ef5350"/>
<rect x="836" y="412" width="3" height="23" fill="#ef5350"/>
<rect x="841" y="412" width="1" height="26" fill="#26a69a"/>
<rect x="840" y="421" width="3" height="14" fill="#26a69a"/>
<rect x="845" y="417" width="1" height="14" fill="#ef5350"/>
<rect x="844" y="421" width="3" height="6" fill="#ef5350"/>
<rect x="849" y="418" width="1" height="16" fill="#ef5350"/>
<rect x="848" y="426" width="3" height="1" fill="#ef5350"/>
<rect x="853" y="426" width="1" height="3" fill="#ef5350"/>
<rect x="852" y="426" width="3" height="2" fill="#ef5350"/>
<rect x="857" y="428" width="1" height="22" fill="#ef5350"/>
<rect x="856" y="428" width="3" height="18" fill="#ef5350"/>
<rect x="861" y="422" width="1" height="24" fill="#26a69a"/>
<rect x="860" y="431" width="3" height="15" fill="#26a69a"/>
<rect x="866" y="425" width="1" height="12" fill="#26a69a"/>
<rect x="865" y="428" width="3" height="4" fill="#26a69a"/>
<rect x="870" y="422" width="1" height="10" fill="#ef5350"/>
<rect x="869" y="428" width="3" height="1" fill="#ef5350"/>
<rect x="874" y="429" width="1" height="28" fill="#ef5350"/>
<rect x="873" y="429" width="3" height="23" fill="#ef5350"/>
<rect x="878" y="450" width="1" height="22" fill="#ef5350"/>
<rect x="877" y="451" width="3" height="17" fill="#ef5350"/>
<rect x="882" y="462" width="1" height="53" fill="#ef5350"/>
<rect x="881" y="466" width="3" height="20" fill="#ef5350"/>
<rect x="886" y="478" width="1" height="27" fill="#ef5350"/>
<rect x="885" y="485" width="3" height="13" fill="#ef5350"/>
<rect x="890" y="483" width="1" height="27" fill="#26a69a"/>
<rect x="889" y="491" width="3" height="7" fill="#26a69a"/>
<rect x="894" y="488" width="1" height="22" fill="#ef5350"/>
<rect x="893" y="491" width="3" height="10" fill="#ef5350"/>
<rect x="898" y="493" width="1" height="25" fill="#ef5350"/>
<rect x="897" y="500" width="3" height="14" fill="#ef5350"/>
<rect x="902" y="512" width="1" height="82" fill="#ef5350"/>
<rect x="901" y="514" width="3" height="64" fill="#ef5350"/>
<rect x="906" y="507" width="1" height="91" fill="#26a69a"/>
<rect x="905" y="523" width="3" height="55" fill="#26a69a"/>
<rect x="910" y="519" width="1" height="22" fill="#ef5350"/>
<rect x="909" y="523" width="3" height="11" fill="#ef5350"/>
<rect x="914" y="523" width="1" height="13" fill="#26a69a"/>
<rect x="913" y="531" width="3" height="3" fill="#26a69a"/>
<rect x="918" y="524" width="1" height="20" fill="#26a69a"/>
<rect x="917" y="530" width="3" height="2" fill="#26a69a"/>
<rect x="922" y="526" width="1" height="14" fill="#ef5350"/>
<rect x="921" y="530" width="3" height="9" fill="#ef5350"/>
<rect x="926" y="534" width="1" height="16" fill="#ef5350"/>
<rect x="925" y="538" width="3" height="7" fill="#ef5350"/>
<rect x="930" y="536" width="1" height="13" fill="#ef5350"/>
<rect x="929" y="544" width="3" height="3" fill="#ef5350"/>
<rect x="934" y="532" width="1" height="17" fill="#26a69a"/>
<rect x="933" y="536" width="3" height="11" fill="#26a69a"/>
<rect x="938" y="514" width="1" height="23" fill="#26a69a"/>
<rect x="937" y="515" width="3" height="22" fill="#26a69a"/>
<rect x="942" y="480" width="1" height="48" fill="#ef5350"/>
<rect x="941" y="515" width="3" height="8" fill="#ef5350"/>
<rect x="947" y="513" width="1" height="14" fill="#26a69a"/>
<rect x="946" y="519" width="3" height="4" fill="#26a69a"/>
<rect x="951" y="518" width="1" height="14" fill="#ef5350"/>
<rect x="950" y="518" width="3" height="5" fill="#ef5350"/>
<rect x="955" y="518" width="1" height="18" fill="#ef5350"/>
<rect x="954" y="522" width="3" height="12" fill="#ef5350"/>
<rect x="959" y="530" width="1" height="12" fill="#ef5350"/>
<rect x="958" y="532" width="3" height="5" fill="#ef5350"/>
<rect x="963" y="530" width="1" height="13" fill="#26a69a"/>
<rect x="962" y="532" width="3" height="5" fill="#26a69a"/>
<rect x="967" y="524" width="1" height="10" fill="#26a69a"/>
<rect x="966" y="531" width="3" height="1" fill="#26a69a"/>
<rect x="971" y="531" width="1" height="11" fill="#ef5350"/>
<rect x="970" y="531" width="3" height="9" fill="#ef5350"/>
<rect x="975" y="532" width="1" height="21" fill="#ef5350"/>
<rect x="974" y="539" width="3" height="10" fill="#ef5350"/>
<rect x="979" y="545" width="1" height="11" fill="#ef5350"/>
<rect x="978" y="548" width="3" height="1" fill="#ef5350"/>
<rect x="983" y="518" width="1" height="32" fill="#26a69a"/>
<rect x="982" y="531" width="3" height="19" fill="#26a69a"/>
<rect x="987" y="523" width="1" height="18" fill="#ef5350"/>
<rect x="986" y="531" width="3" height="7" fill="#ef5350"/>
<rect x="991" y="532" width="1" height="19" fill="#ef5350"/>
<rect x="990" y="537" width="3" height="11" fill="#ef5350"/>
<rect x="995" y="539" width="1" height="26" fill="#26a69a"/>
<rect x="994" y="543" width="3" height="5" fill="#26a69a"/>
<rect x="999" y="531" width="1" height="20" fill="#ef5350"/>
<rect x="998" y="543" width="3" height="6" fill="#ef5350"/>
<rect x="1003" y="532" width="1" height="20" fill="#26a69a"/>
<rect x="1002" y="540" width="3" height="9" fill="#26a69a"/>
<rect x="1007" y="539" width="1" height="12" fill="#ef5350"/>
<rect x="1006" y="540" width="3" height="7" fill="#ef5350"/>
<rect x="1011" y="522" width="1" height="27" fill="#26a69a"/>
<rect x="1010" y="531" width="3" height="16" fill="#26a69a"/>
<rect x="1015" y="527" width="1" height="12" fill="#ef5350"/>
<rect x="1014" y="531" width="3" height="7" fill="#ef5350"/>
<rect x="1019" y="535" width="1" height="14" fill="#ef5350"/>
<rect x="1018" y="536" width="3" height="11" fill="#ef5350"/>
<rect x="1023" y="543" width="1" height="6" fill="#ef5350"/>
<rect x="1022" y="546" width="3" height="2" fill="#ef5350"/>
<rect x="1027" y="544" width="1" height="10" fill="#ef5350"/>
<rect x="1026" y="547" width="3" height="5" fill="#ef5350"/>
<rect x="1032" y="541" width="1" height="11" fill="#26a69a"/>
<rect x="1031" y="546" width="3" height="6" fill="#26a69a"/>
<rect x="1036" y="529" width="1" height="18" fill="#26a69a"/>
<rect x="1035" y="541" width="3" height="6" fill="#26a69a"/>
<rect x="1040" y="535" width="1" height="9" fill="#ef5350"/>
<rect x="1039" y="541" width="3" height="1" fill="#ef5350"/>
<rect x="1044" y="539" width="1" height="6" fill="#ef5350"/>
<rect x="1043" y="541" width="3" height="1" fill="#ef5350"/>
<rect x="1048" y="527" width="1" height="15" fill="#26a69a"/>
<rect x="1047" y="538" width="3" height="4" fill="#26a69a"/>
<rect x="1052" y="536" width="1" height="4" fill="#26a69a"/>
<rect x="1051" y="537" width="3" height="2" fill="#26a69a"/>
<rect x="1056" y="524" width="1" height="13" fill="#26a69a"/>
<rect x="1055" y="527" width="3" height="10" fill="#26a69a"/>
<rect x="1060" y="505" width="1" height="25" fill="#26a69a"/>
<rect x="1059" y="507" width="3" height="20" fill="#26a69a"/>
<rect x="1064" y="494" width="1" height="23" fill="#ef5350"/>
<rect x="1063" y="507" width="3" height="7" fill="#ef5350"/>
<rect x="1068" y="508" width="1" height="19" fill="#ef5350"/>
<rect x="1067" y="513" width="3" height="12" fill="#ef5350"/>
<rect x="1072" y="520" width="1" height="12" fill="#ef5350"/>
<rect x="1071" y="524" width="3" height="5" fill="#ef5350"/>
<rect x="1076" y="524" width="1" height="8" fill="#ef5350"/>
<rect x="1075" y="528" width="3" height="1" fill="#ef5350"/>
<rect x="1080" y="527" width="1" height="11" fill="#ef5350"/>
<rect x="1079" y="528" width="3" height="8" fill="#ef5350"/>
<rect x="1084" y="533" width="1" height="11" fill="#ef5350"/>
<rect x="1083" y="536" width="3" height="6" fill="#ef5350"/>
<rect x="1088" y="524" width="1" height="22" fill="#26a69a"/>
<rect x="1087" y="531" width="3" height="11" fill="#26a69a"/>
<rect x="1092" y="530" width="1" height="10" fill="#ef5350"/>
<rect x="1091" y="531" width="3" height="5" fill="#ef5350"/>
<rect x="1096" y="530" width="1" height="6" fill="#ef5350"/>
<rect x="1095" y="534" width="3" height="2" fill="#ef5350"/>
<rect x="1100" y="534" width="1" height="17" fill="#ef5350"/>
<rect x="1099" y="535" width="3" height="12" fill="#ef5350"/>
<rect x="1104" y="544" width="1" height="11" fill="#ef5350"/>
<rect x="1103" y="546" width="3" height="9" fill="#ef5350"/>
<rect x="1108" y="547" width="1" height="8" fill="#26a69a"/>
<rect x="1107" y="552" width="3" height="3" fill="#26a69a"/>
<rect x="1113" y="550" width="1" height="10" fill="#ef5350"/>
<rect x="1112" y="552" width="3" height="2" fill="#ef5350"/>
<rect x="1117" y="545" width="1" height="11" fill="#ef5350"/>
<rect x="1116" y="553" width="3" height="1" fill="#ef5350"/>
<rect x="1121" y="548" width="1" height="10" fill="#26a69a"/>
<rect x="1120" y="550" width="3" height="5" fill="#26a69a"/>
<rect x="1125" y="545" width="1" height="7" fill="#26a69a"/>
<rect x="1124" y="549" width="3" height="2" fill="#26a69a"/>
<rect x="1129" y="547" width="1" height="16" fill="#ef5350"/>
<rect x="1128" y="549" width="3" height="7" fill="#ef5350"/>
<rect x="1133" y="551" width="1" height="7" fill="#ef5350"/>
<rect x="1132" y="554" width="3" height="2" fill="#ef5350"/>
<rect x="1137" y="554" width="1" height="4" fill="#ef5350"/>
<rect x="1136" y="555" width="3" height="1" fill="#ef5350"/>
<rect x="1141" y="552" width="1" height="12" fill="#26a69a"/>
<rect x="1140" y="553" width="3" height="4" fill="#26a69a"/>
<rect x="1145" y="547" width="1" height="9" fill="#ef5350"/>
<rect x="1144" y="553" width="3" height="3" fill="#ef5350"/>
<rect x="1149" y="539" width="1" height="21" fill="#26a69a"/>
<rect x="1148" y="542" width="3" height="14" fill="#26a69a"/>
<rect x="1153" y="540" width="1" height="11" fill="#ef5350"/>
<rect x="1152" y="542" width="3" height="9" fill="#ef5350"/>
<rect x="1157" y="544" width="1" height="10" fill="#26a69a"/>
<rect x="1156" y="550" width="3" height="1" fill="#26a69a"/>
<rect x="1161" y="545" width="1" height="7" fill="#26a69a"/>
<rect x="1160" y="546" width="3" height="5" fill="#26a69a"/>
<rect x="1165" y="542" width="1" height="9" fill="#ef5350"/>
<rect x="1164" y="546" width="3" height="2" fill="#ef5350"/>
<rect x="1169" y="546" width="1" height="9" fill="#ef5350"/>
<rect x="1168" y="547" width="3" height="8" fill="#ef5350"/>
<rect x="1173" y="541" width="1" height="14" fill="#26a69a"/>
<rect x="1172" y="543" width="3" height="12" fill="#26a69a"/>
<rect x="1177" y="539" width="1" height="9" fill="#ef5350"/>
<rect x="1176" y="542" width="3" height="6" fill="#ef5350"/>
<rect x="1181" y="536" width="1" height="12" fill="#26a69a"/>
<rect x="1180" y="539" width="3" height="9" fill="#26a69a"/>
<rect x="1185" y="524" width="1" height="17" fill="#26a69a"/>
<rect x="1184" y="527" width="3" height="13" fill="#26a69a"/>
<rect x="1189" y="514" width="1" height="19" fill="#26a69a"/>
<rect x="1188" y="522" width="3" height="6" fill="#26a69a"/>
<rect x="1193" y="520" width="1" height="13" fill="#ef5350"/>
<rect x="1192" y="522" width="3" height="10" fill="#ef5350"/>
<rect x="1198" y="528" width="1" height="12" fill="#ef5350"/>
<rect x="1197" y="531" width="3" height="9" fill="#ef5350"/>
<rect x="1202" y="530" width="1" height="11" fill="#26a69a"/>
<rect x="1201" y="532" width="3" height="8" fill="#26a69a"/>
</g>
<line x1="80" y1="57.5" x2="1282.5" y2="57.5" stroke="#0000ff" stroke-width="3" stroke-dasharray="15 18"/>
<line x1="10.2" y1="493.5" x2="1282.5" y2="493.5" stroke="#0000ff" stroke-width="3" stroke-dasharray="15 18"/>
<line x1="922" y1="565.5" x2="1267" y2="565.5" stroke="#0000ff" stroke-width="3" stroke-dasharray="15 18"/>
<polygon points="75.5,53.7 1250.5,499.1 1250.5,674.8 75.5,229.4" fill="#738799" fill-opacity="0.10"/>
<line x1="75.5" y1="141.6" x2="1244.5" y2="584.8" stroke="#131722" stroke-width="1.1" stroke-dasharray="6 6"/>
<line x1="75.5" y1="53.7" x2="1250.5" y2="499.1" stroke="#05465a" stroke-width="2.0"/>
<line x1="75.5" y1="229.4" x2="1250.5" y2="674.8" stroke="#05465a" stroke-width="2.0"/>
</g>
<path d="M937.5,321.5 H1028.5 Q1034.5,321.5 1034.5,327.5 V348.5 Q1034.5,354.5 1028.5,354.5 H938 L910.7,356.3 L931.4,345.5 V327.5 Q931.4,321.5 937.5,321.5 Z" fill="#fff" fill-opacity="0.85" stroke="#9c1c1c" stroke-width="1.5" stroke-linejoin="round"/>
<text x="983.2" y="341.3" font-size="12" fill="#9c1c1c" stroke="#9c1c1c" stroke-width="0.25" text-anchor="middle" textLength="81.5" lengthAdjust="spacingAndGlyphs">Downtrend line</text>
<path d="M755.5,535.4 H785 L825,526.5 L800,535.4 H829.4 Q835.4,535.4 835.4,541.4 V562.2 Q835.4,568.2 829.4,568.2 H755.5 Q749.5,568.2 749.5,562.2 V541.4 Q749.5,535.4 755.5,535.4 Z" fill="#fff" fill-opacity="0.85" stroke="#9c1c1c" stroke-width="1.5" stroke-linejoin="round"/>
<text x="792.5" y="555.3" font-size="12" fill="#9c1c1c" stroke="#9c1c1c" stroke-width="0.25" text-anchor="middle" textLength="65" lengthAdjust="spacingAndGlyphs">Support line</text>
<circle cx="1202.4" cy="616.3" r="11.4" fill="#fff" fill-opacity="0.92"/>
<circle cx="1202.4" cy="616.3" r="9.7" fill="#fff" stroke="#9c27b0" stroke-width="1.7"/>
<path d="M1205.0,611.2 L1198.2,616.5 L1202.5,616.7 L1199.2,621.6 L1206.6,616.1 L1202.1,615.9 Z" fill="#9c27b0" stroke="#9c27b0" stroke-width="0.4" stroke-linejoin="round"/>
<circle cx="1209.5" cy="609.4" r="4.3" fill="#fff"/><circle cx="1209.5" cy="609.4" r="2.7" fill="#f23645"/>
<g clip-path="url(#cr)">
<rect x="10.0" y="687" width="1272.5" height="101" fill="#7e57c2" fill-opacity="0.1"/>
<line x1="10.0" y1="687.5" x2="1282.5" y2="687.5" stroke="#787b86" stroke-width="1" stroke-dasharray="6 5" shape-rendering="crispEdges" opacity="1"/>
<line x1="10.0" y1="737.5" x2="1282.5" y2="737.5" stroke="#787b86" stroke-width="1" stroke-dasharray="6 5" shape-rendering="crispEdges" opacity="0.6"/>
<line x1="10.0" y1="787.5" x2="1282.5" y2="787.5" stroke="#787b86" stroke-width="1" stroke-dasharray="6 5" shape-rendering="crispEdges" opacity="1"/>
<path d="M50.9,687.5 L52.5,680.3 L56.5,665.5 L60.5,664.6 L64.5,658.1 L68.5,652.6 L72.5,660.9 L76.5,655.0 L80.5,639.6 L84.5,651.3 L88.5,651.3 L92.5,650.2 L96.5,647.6 L100.5,647.6 L103.3,687.5 Z M774.9,687.5 L776.5,675.3 L780.5,685.7 L780.8,687.5 Z " fill="url(#obg)"/>
<path d="M423.6,787.5 L424.5,796.3 L428.5,794.5 L429.7,787.5 Z M880.8,787.5 L882.5,791.7 L886.5,796.7 L890.5,789.0 L894.5,793.8 L898.5,800.4 L902.5,819.6 L905.2,787.5 Z " fill="url(#osg)"/>
<polyline points="10.2,746.5 18.5,744.1 27.7,739.5 35.1,734.0 42.5,731.2 48.1,727.9 55.5,718.2 64.7,706.2 74.0,693.3 83.2,680.3 92.5,667.4 100.8,658.7 107.3,660.9 114.7,667.4 122.1,673.8 129.5,681.2 136.9,690.5 144.3,703.4 151.7,715.5 157.2,723.4 162.8,725.3 170.2,725.3 177.6,726.9 185.0,727.5 192.4,726.9 199.8,726.0 205.3,725.6 212.7,727.5 220.1,731.2 227.5,735.8 234.9,738.2 242.3,740.8 247.4,742.7 256.6,746.0 265.9,749.3 277.0,748.4 288.1,751.5 297.3,749.3 306.6,746.5 315.8,739.5 325.1,734.3 334.3,729.3 340.8,726.9 347.3,726.6 354.7,730.3 360.2,732.1 367.6,738.6 375.0,742.7 384.3,745.6 391.7,746.5 399.1,744.7 406.5,743.2 413.9,740.8 420.4,740.8 426.8,745.1 434.2,748.2 441.6,752.5 449.0,758.9 456.4,765.4 463.8,770.0 471.2,772.8 476.8,773.4 482.3,769.1 487.4,763.6 496.6,758.0 505.9,753.4 513.3,748.2 517.9,747.5 524.4,749.3 531.8,748.8 539.2,750.1 546.6,752.5 554.0,753.0 561.4,753.0 568.8,754.9 576.2,756.2 581.7,754.9 589.1,756.5 596.5,759.3 603.9,761.7 611.3,761.7 618.7,760.8 626.1,758.9 633.5,758.0 640.9,755.6 648.3,751.9 655.7,749.3 663.1,749.7 670.5,751.2 677.9,752.8 685.3,754.3 692.7,756.7 700.1,760.4 705.7,762.3 713.1,762.3 720.5,763.0 728.3,765.3 738.6,766.3 748.9,765.3 757.2,762.8 765.5,757.0 772.7,751.8 780.0,741.5 788.2,734.2 796.5,728.0 804.8,722.9 812.0,718.1 817.2,716.7 823.4,718.1 829.6,721.8 836.8,732.2 844.0,737.3 852.3,742.5 858.5,746.2 866.8,749.7 873.0,753.9 881.3,761.1 889.5,767.3 895.7,771.5 901.9,777.7 908.1,779.7 914.3,780.8 920.5,783.4 926.7,785.9 932.9,785.9 939.2,782.2 947.4,777.7 955.7,771.5 961.9,767.3 968.3,766.7 978.6,766.3 986.9,762.8 997.2,762.8 1006.5,763.2 1015.8,760.5 1026.2,759.0 1036.5,755.9 1042.7,754.9 1051.0,751.8 1057.2,747.7 1064.4,742.1 1071.6,740.0 1079.9,737.3 1088.2,735.7 1095.4,734.9 1102.7,736.3 1110.9,740.4 1119.2,747.7 1127.5,752.4 1135.7,756.4 1144.0,758.4 1152.3,758.6 1158.5,757.0 1166.7,753.9 1175.0,750.4 1181.2,746.6 1187.4,740.4 1193.6,735.3 1200.9,731.8" fill="none" stroke="#fdd835" stroke-width="1.4" stroke-linejoin="round" stroke-linecap="round" />
<polyline points="11.5,724.7 15.5,740.1 19.5,727.5 23.5,723.4 27.5,730.8 31.5,731.6 35.5,721.0 40.5,721.0 44.5,713.6 48.5,698.8 52.5,680.3 56.5,665.5 60.5,664.6 64.5,658.1 68.5,652.6 72.5,660.9 76.5,655.0 80.5,639.6 84.5,651.3 88.5,651.3 92.5,650.2 96.5,647.6 100.5,647.6 104.5,704.9 108.5,709.5 112.5,709.9 116.5,707.7 120.5,702.0 125.5,716.9 129.5,717.3 133.5,721.9 137.5,731.2 141.5,739.5 145.5,760.4 149.5,739.5 153.5,726.6 157.5,737.7 161.5,734.9 165.5,707.1 169.5,709.9 173.5,716.4 177.5,721.0 181.5,728.4 185.5,715.8 189.5,715.1 193.5,736.7 197.5,736.7 201.5,734.0 206.5,735.8 210.5,739.0 214.5,760.4 218.5,748.8 222.5,758.0 226.5,734.0 230.5,735.8 234.5,738.6 238.5,754.9 242.5,738.2 246.5,741.8 250.5,742.7 254.5,756.5 258.5,757.1 262.5,760.8 266.5,762.6 270.5,747.8 274.5,749.7 278.5,755.6 282.5,752.5 286.5,753.4 291.5,742.3 295.5,729.3 299.5,732.5 303.5,726.6 307.5,719.2 311.5,710.8 315.5,709.9 319.5,725.6 323.5,731.2 327.5,725.6 331.5,718.8 335.5,721.0 339.5,736.4 343.5,739.0 347.5,739.5 351.5,758.9 355.5,762.6 359.5,742.7 363.5,767.3 367.5,760.8 372.5,756.7 376.5,745.6 380.5,743.2 384.5,748.2 388.5,731.2 392.5,718.6 396.5,718.6 400.5,731.2 404.5,731.2 408.5,727.5 412.5,750.6 416.5,746.0 420.5,757.1 424.5,796.3 428.5,794.5 432.5,771.9 436.5,760.8 440.5,769.1 444.5,776.5 448.5,783.0 453.5,785.2 457.5,774.7 461.5,769.7 465.5,755.2 469.5,761.7 473.5,767.3 477.5,763.0 481.5,746.9 485.5,735.8 489.5,729.7 493.5,731.6 497.5,735.8 501.5,743.2 505.5,756.5 509.5,746.4 513.5,746.4 517.5,743.2 521.5,768.2 525.5,777.8 529.5,757.5 533.5,769.1 538.5,755.6 542.5,758.0 546.5,747.3 550.5,729.7 554.5,743.8 558.5,744.5 562.5,750.6 566.5,758.6 570.5,759.9 574.5,762.3 578.5,766.7 582.5,758.6 586.5,768.2 590.5,778.4 594.5,783.0 598.5,783.0 602.5,765.4 606.5,740.4 610.5,743.2 614.5,740.4 619.5,742.8 623.5,746.4 627.5,742.7 631.5,749.7 635.5,765.4 639.5,746.0 643.5,739.5 647.5,751.9 651.5,758.9 655.5,759.3 659.5,757.1 663.5,752.5 667.5,746.4 671.5,755.2 675.5,756.7 679.5,760.8 683.5,757.5 687.5,764.9 691.5,775.2 695.5,767.8 700.5,775.6 704.5,783.4 708.5,760.8 712.5,755.6 716.5,757.5 720.5,760.8 724.5,764.8 728.5,766.9 732.5,771.5 736.5,768.4 740.5,760.1 744.5,761.5 748.5,763.8 752.5,756.4 756.5,764.2 760.5,752.8 764.5,721.4 768.5,719.4 772.5,706.3 776.5,675.3 780.5,685.7 785.5,713.6 789.5,720.8 793.5,725.6 797.5,726.6 801.5,729.7 805.5,734.2 809.5,715.6 813.5,721.8 817.5,732.6 821.5,734.7 825.5,735.9 829.5,749.1 833.5,750.2 837.5,765.9 841.5,753.3 845.5,757.0 849.5,757.6 853.5,758.6 857.5,771.5 861.5,754.9 866.5,752.8 870.5,752.8 874.5,770.4 878.5,781.8 882.5,791.7 886.5,796.7 890.5,789.0 894.5,793.8 898.5,800.4 902.5,819.6 906.5,772.5 910.5,776.6 914.5,775.6 918.5,775.0 922.5,778.1 926.5,780.8 930.5,781.4 934.5,772.1 938.5,753.3 942.5,757.0 947.5,755.3 951.5,757.4 955.5,764.2 959.5,766.3 963.5,761.5 967.5,761.3 971.5,767.3 975.5,773.5 979.5,774.6 983.5,752.4 987.5,758.0 991.5,765.3 995.5,760.5 999.5,764.6 1003.5,754.5 1007.5,759.5 1011.5,742.5 1015.5,748.3 1019.5,755.9 1023.5,757.4 1027.5,760.7 1032.5,754.9 1036.5,747.3 1040.5,747.7 1044.5,747.7 1048.5,742.5 1052.5,739.8 1056.5,726.0 1060.5,703.2 1064.5,712.5 1068.5,729.1 1072.5,733.6 1076.5,734.7 1080.5,744.6 1084.5,751.4 1088.5,737.3 1092.5,741.5 1096.5,742.1 1100.5,755.9 1104.5,765.7 1108.5,763.2 1113.5,764.2 1117.5,765.7 1121.5,758.0 1125.5,754.9 1129.5,763.6 1133.5,764.2 1137.5,765.3 1141.5,759.0 1145.5,761.1 1149.5,732.8 1153.5,747.7 1157.5,747.3 1161.5,741.9 1165.5,742.1 1169.5,754.9 1173.5,731.1 1177.5,737.3 1181.5,724.9 1185.5,705.3 1189.5,699.1 1193.5,718.7 1198.5,731.8 1202.5,721.8" fill="none" stroke="#7e57c2" stroke-width="3" stroke-linejoin="round" stroke-linecap="round" />
</g>
<g stroke="#dfe1e6" stroke-width="1" fill="none" shape-rendering="crispEdges">
<line x1="1282.5" y1="28" x2="1282.5" y2="858"/>
<line x1="11" y1="629.5" x2="1347" y2="629.5"/>
<line x1="11" y1="630.5" x2="1347" y2="630.5" stroke="#f3f4f7"/>
<line x1="11" y1="831.5" x2="1347" y2="831.5"/>
</g>
<text y="45.9" font-size="12.8" fill="#131722" stroke="#131722" stroke-width="0.2"><tspan x="17.6" textLength="20.6" lengthAdjust="spacingAndGlyphs">XRP</tspan> <tspan x="44.2">/</tspan> <tspan x="51.6" textLength="47.9" lengthAdjust="spacingAndGlyphs">TetherUS</tspan> <tspan x="103.5" font-weight="bold">·</tspan> <tspan x="113.4" textLength="11.3" lengthAdjust="spacingAndGlyphs">1D</tspan> <tspan x="128.8" font-weight="bold">·</tspan> <tspan x="138" textLength="40.0" lengthAdjust="spacingAndGlyphs">Binance</tspan></text>
<text y="45.9" font-size="12.8" fill="#131722" stroke="#131722" stroke-width="0.2"><tspan x="186.5" textLength="7.5" lengthAdjust="spacingAndGlyphs">O</tspan><tspan x="196.2" textLength="33.6" lengthAdjust="spacingAndGlyphs" fill="#26a69a" stroke="#26a69a">1.3943</tspan> <tspan x="237.4" textLength="6.8" lengthAdjust="spacingAndGlyphs">H</tspan><tspan x="247" textLength="34" lengthAdjust="spacingAndGlyphs" fill="#26a69a" stroke="#26a69a">1.4350</tspan> <tspan x="288.6" textLength="5.8" lengthAdjust="spacingAndGlyphs">L</tspan><tspan x="296.7" textLength="33.3" lengthAdjust="spacingAndGlyphs" fill="#26a69a" stroke="#26a69a">1.3933</tspan> <tspan x="337.7" textLength="6.5" lengthAdjust="spacingAndGlyphs">C</tspan><tspan x="346.5" textLength="33.5" lengthAdjust="spacingAndGlyphs" fill="#26a69a" stroke="#26a69a">1.4277</tspan> <tspan x="388.5" textLength="40.8" lengthAdjust="spacingAndGlyphs" fill="#26a69a" stroke="#26a69a">+0.0335</tspan> <tspan x="434" textLength="45" lengthAdjust="spacingAndGlyphs" fill="#26a69a" stroke="#26a69a">(+2.40%)</tspan></text>
<text y="62.7" font-size="12.8" fill="#131722" stroke="#131722" stroke-width="0.2"><tspan x="18.2" textLength="21.1" lengthAdjust="spacingAndGlyphs">EMA</tspan> <tspan x="44.3" textLength="19.7" lengthAdjust="spacingAndGlyphs">(20,</tspan> <tspan x="69" textLength="31.2" lengthAdjust="spacingAndGlyphs">close)</tspan> <tspan x="108.7" textLength="34.0" lengthAdjust="spacingAndGlyphs" fill="#2962ff" stroke="#2962ff">1.3886</tspan></text>
<text y="79.8" font-size="12.8" fill="#131722" stroke="#131722" stroke-width="0.2"><tspan x="18.2" textLength="21.1" lengthAdjust="spacingAndGlyphs">SMA</tspan> <tspan x="44.3" textLength="19.7" lengthAdjust="spacingAndGlyphs">(50,</tspan> <tspan x="69" textLength="31.2" lengthAdjust="spacingAndGlyphs">close)</tspan> <tspan x="108.7" textLength="34.0" lengthAdjust="spacingAndGlyphs" fill="#f23645" stroke="#f23645">1.3854</tspan></text>
<text y="649.0" font-size="12.8" fill="#131722" stroke="#131722" stroke-width="0.2"><tspan x="18.2" textLength="15.6" lengthAdjust="spacingAndGlyphs">RSI</tspan> <tspan x="39" textLength="19.8" lengthAdjust="spacingAndGlyphs">(14,</tspan> <tspan x="63.5" textLength="31.1" lengthAdjust="spacingAndGlyphs">close)</tspan> <tspan x="102.5" textLength="28.5" lengthAdjust="spacingAndGlyphs" fill="#7e57c2" stroke="#7e57c2">55.72</tspan> <tspan x="138.7" textLength="28.9" lengthAdjust="spacingAndGlyphs" fill="#fdd835" stroke="#fdd835">52.16</tspan></text>
<text x="1291" y="627.0" font-size="12" fill="#131722" text-anchor="start" textLength="35" lengthAdjust="spacingAndGlyphs" stroke="#131722" stroke-width="0.15">1.0000</text>
<text x="1291" y="584.5" font-size="12" fill="#131722" text-anchor="start" textLength="35" lengthAdjust="spacingAndGlyphs" stroke="#131722" stroke-width="0.15">1.2000</text>
<text x="1291" y="542.0" font-size="12" fill="#131722" text-anchor="start" textLength="35" lengthAdjust="spacingAndGlyphs" stroke="#131722" stroke-width="0.15">1.4000</text>
<text x="1291" y="499.5" font-size="12" fill="#131722" text-anchor="start" textLength="35" lengthAdjust="spacingAndGlyphs" stroke="#131722" stroke-width="0.15">1.6000</text>
<text x="1291" y="457.0" font-size="12" fill="#131722" text-anchor="start" textLength="35" lengthAdjust="spacingAndGlyphs" stroke="#131722" stroke-width="0.15">1.8000</text>
<text x="1291" y="414.5" font-size="12" fill="#131722" text-anchor="start" textLength="35" lengthAdjust="spacingAndGlyphs" stroke="#131722" stroke-width="0.15">2.0000</text>
<text x="1291" y="372.0" font-size="12" fill="#131722" text-anchor="start" textLength="35" lengthAdjust="spacingAndGlyphs" stroke="#131722" stroke-width="0.15">2.2000</text>
<text x="1291" y="329.5" font-size="12" fill="#131722" text-anchor="start" textLength="35" lengthAdjust="spacingAndGlyphs" stroke="#131722" stroke-width="0.15">2.4000</text>
<text x="1291" y="287.0" font-size="12" fill="#131722" text-anchor="start" textLength="35" lengthAdjust="spacingAndGlyphs" stroke="#131722" stroke-width="0.15">2.6000</text>
<text x="1291" y="244.5" font-size="12" fill="#131722" text-anchor="start" textLength="35" lengthAdjust="spacingAndGlyphs" stroke="#131722" stroke-width="0.15">2.8000</text>
<text x="1291" y="202.0" font-size="12" fill="#131722" text-anchor="start" textLength="35" lengthAdjust="spacingAndGlyphs" stroke="#131722" stroke-width="0.15">3.0000</text>
<text x="1291" y="159.5" font-size="12" fill="#131722" text-anchor="start" textLength="35" lengthAdjust="spacingAndGlyphs" stroke="#131722" stroke-width="0.15">3.2000</text>
<text x="1291" y="117.0" font-size="12" fill="#131722" text-anchor="start" textLength="35" lengthAdjust="spacingAndGlyphs" stroke="#131722" stroke-width="0.15">3.4000</text>
<text x="1291" y="74.5" font-size="12" fill="#131722" text-anchor="start" textLength="35" lengthAdjust="spacingAndGlyphs" stroke="#131722" stroke-width="0.15">3.6000</text>
<text x="1291" y="817.0" font-size="12" fill="#131722" text-anchor="start" textLength="29.5" lengthAdjust="spacingAndGlyphs" stroke="#131722" stroke-width="0.15">20.00</text>
<text x="1291" y="767.0" font-size="12" fill="#131722" text-anchor="start" textLength="29.5" lengthAdjust="spacingAndGlyphs" stroke="#131722" stroke-width="0.15">40.00</text>
<text x="1291" y="716.0" font-size="12" fill="#131722" text-anchor="start" textLength="29.5" lengthAdjust="spacingAndGlyphs" stroke="#131722" stroke-width="0.15">60.00</text>
<text x="1291" y="666.0" font-size="12" fill="#131722" text-anchor="start" textLength="29.5" lengthAdjust="spacingAndGlyphs" stroke="#131722" stroke-width="0.15">80.00</text>
<rect x="1285.5" y="30.5" width="58.5" height="27" rx="4.5" fill="#fff" stroke="#dfe1e6" stroke-width="1"/>
<path d="M1283,60.5 H1332 V64 Q1332,66 1330,66 H1283 Z" fill="#0000ff"/>
<text x="1295.2" y="48.8" font-size="12" fill="#131722" text-anchor="start" textLength="27" lengthAdjust="spacingAndGlyphs">USDT</text>
<path d="M1283,485 H1330 Q1332,485 1332,487 V500 Q1332,502 1330,502 H1283 Q1283,502 1283,502 V485 Q1283,485 1283,485 Z" fill="#0000ff"/>
<text x="1291" y="497.9" font-size="12" fill="#fff" text-anchor="start" textLength="35" lengthAdjust="spacingAndGlyphs" stroke="#fff" stroke-width="0.3">1.6100</text>
<path d="M1227,524 H1282 Q1282,524 1282,524 V541 Q1282,541 1282,541 H1227 Q1225,541 1225,539 V526 Q1225,524 1227,524 Z" fill="#26a69a"/>
<text x="1229.5" y="536.9" font-size="12" fill="#fff" text-anchor="start" textLength="47.5" lengthAdjust="spacingAndGlyphs" stroke="#fff" stroke-width="0.3">XRPUSDT</text>
<path d="M1283,524 H1341 Q1343,524 1343,526 V567 Q1343,569 1341,569 H1283 Q1283,569 1283,569 V524 Q1283,524 1283,524 Z" fill="#26a69a"/>
<text x="1291" y="537" font-size="12" fill="#fff" text-anchor="start" textLength="35" lengthAdjust="spacingAndGlyphs" stroke="#fff" stroke-width="0.3">1.4277</text>
<text x="1291" y="551" font-size="12" fill="#fff" text-anchor="start" textLength="43" lengthAdjust="spacingAndGlyphs" stroke="#fff" stroke-width="0.3">−35.29%</text>
<text x="1291" y="565" font-size="12" fill="#fff" text-anchor="start" textLength="46" lengthAdjust="spacingAndGlyphs" fill-opacity="0.75">07:52:16</text>
<path d="M1253,569 H1282 Q1282,569 1282,569 V585.8 Q1282,585.8 1282,585.8 H1253 Q1251,585.8 1251,583.8 V571 Q1251,569 1253,569 Z" fill="#2962ff"/>
<text x="1255.5" y="581.8" font-size="12" fill="#fff" text-anchor="start" textLength="22.5" lengthAdjust="spacingAndGlyphs" stroke="#fff" stroke-width="0.3">EMA</text>
<path d="M1283,569 H1330 Q1332,569 1332,571 V583.8 Q1332,585.8 1330,585.8 H1283 Q1283,585.8 1283,585.8 V569 Q1283,569 1283,569 Z" fill="#2962ff"/>
<text x="1291" y="581.8" font-size="12" fill="#fff" text-anchor="start" textLength="35" lengthAdjust="spacingAndGlyphs" stroke="#fff" stroke-width="0.3">1.3886</text>
<path d="M1234,586.2 H1282 Q1282,586.2 1282,586.2 V602.8 Q1282,602.8 1282,602.8 H1234 Q1232,602.8 1232,600.8 V588.2 Q1232,586.2 1234,586.2 Z" fill="#f23645"/>
<text x="1236.5" y="598.9" font-size="12" fill="#fff" text-anchor="start" textLength="41.5" lengthAdjust="spacingAndGlyphs" stroke="#fff" stroke-width="0.3">SMA:MA</text>
<path d="M1283,586.2 H1330 Q1332,586.2 1332,588.2 V600.8 Q1332,602.8 1330,602.8 H1283 Q1283,602.8 1283,602.8 V586.2 Q1283,586.2 1283,586.2 Z" fill="#f23645"/>
<text x="1291" y="598.9" font-size="12" fill="#fff" text-anchor="start" textLength="35" lengthAdjust="spacingAndGlyphs" stroke="#fff" stroke-width="0.3">1.3854</text>
<path d="M1283,603.2 H1330 Q1332,603.2 1332,605.2 V618 Q1332,620 1330,620 H1283 Q1283,620 1283,620 V603.2 Q1283,603.2 1283,603.2 Z" fill="#0000ff"/>
<text x="1291" y="616.0" font-size="12" fill="#fff" text-anchor="start" textLength="35" lengthAdjust="spacingAndGlyphs" stroke="#fff" stroke-width="0.3">1.2700</text>
<path d="M1259,715 H1282 Q1282,715 1282,715 V732 Q1282,732 1282,732 H1259 Q1257,732 1257,730 V717 Q1257,715 1259,715 Z" fill="#7e57c2"/>
<text x="1261.3" y="727.9" font-size="12" fill="#fff" text-anchor="start" textLength="16.5" lengthAdjust="spacingAndGlyphs" stroke="#fff" stroke-width="0.3">RSI</text>
<path d="M1283,715 H1323.5 Q1325.5,715 1325.5,717 V730 Q1325.5,732 1323.5,732 H1283 Q1283,732 1283,732 V715 Q1283,715 1283,715 Z" fill="#7e57c2"/>
<text x="1291" y="727.9" font-size="12" fill="#fff" text-anchor="start" textLength="29.5" lengthAdjust="spacingAndGlyphs" stroke="#fff" stroke-width="0.3">55.72</text>
<path d="M1205,732.5 H1282 Q1282,732.5 1282,732.5 V749 Q1282,749 1282,749 H1205 Q1203,749 1203,747 V734.5 Q1203,732.5 1205,732.5 Z" fill="#fdd835"/>
<text x="1207.5" y="745.15" font-size="12" fill="#131722" text-anchor="start" textLength="70.5" lengthAdjust="spacingAndGlyphs" stroke="#131722" stroke-width="0.3">RSI-based MA</text>
<path d="M1283,732.5 H1323.5 Q1325.5,732.5 1325.5,734.5 V747 Q1325.5,749 1323.5,749 H1283 Q1283,749 1283,749 V732.5 Q1283,732.5 1283,732.5 Z" fill="#fdd835"/>
<text x="1291" y="745.15" font-size="12" fill="#131722" text-anchor="start" textLength="29.5" lengthAdjust="spacingAndGlyphs" stroke="#131722" stroke-width="0.3">52.16</text>
<g clip-path="url(#ct)">
<text x="14.7" y="849.0" font-size="12" fill="#131722" text-anchor="middle" textLength="14.5" lengthAdjust="spacingAndGlyphs" stroke="#131722" stroke-width="0.15">Jul</text>
<text x="140.7" y="849.0" font-size="12" fill="#131722" text-anchor="middle" textLength="19.5" lengthAdjust="spacingAndGlyphs" stroke="#131722" stroke-width="0.15">Aug</text>
<text x="265.7" y="849.0" font-size="12" fill="#131722" text-anchor="middle" textLength="19" lengthAdjust="spacingAndGlyphs" stroke="#131722" stroke-width="0.15">Sep</text>
<text x="387.7" y="849.0" font-size="12" fill="#131722" text-anchor="middle" textLength="18" lengthAdjust="spacingAndGlyphs" stroke="#131722" stroke-width="0.15">Oct</text>
<text x="512.7" y="849.0" font-size="12" fill="#131722" text-anchor="middle" textLength="20" lengthAdjust="spacingAndGlyphs" stroke="#131722" stroke-width="0.15">Nov</text>
<text x="634.7" y="849.0" font-size="12" fill="#131722" text-anchor="middle" textLength="19" lengthAdjust="spacingAndGlyphs" stroke="#131722" stroke-width="0.15">Dec</text>
<text x="759.7" y="849.0" font-size="12" fill="#131722" text-anchor="middle" textLength="27" lengthAdjust="spacingAndGlyphs" font-weight="bold" stroke="#131722" stroke-width="0.15">2026</text>
<text x="885.7" y="849.0" font-size="12" fill="#131722" text-anchor="middle" textLength="18.5" lengthAdjust="spacingAndGlyphs" stroke="#131722" stroke-width="0.15">Feb</text>
<text x="998.7" y="849.0" font-size="12" fill="#131722" text-anchor="middle" textLength="19.5" lengthAdjust="spacingAndGlyphs" stroke="#131722" stroke-width="0.15">Mar</text>
<text x="1124.7" y="849.0" font-size="12" fill="#131722" text-anchor="middle" textLength="18" lengthAdjust="spacingAndGlyphs" stroke="#131722" stroke-width="0.15">Apr</text>
<text x="1245.7" y="849.0" font-size="12" fill="#131722" text-anchor="middle" textLength="21" lengthAdjust="spacingAndGlyphs" stroke="#131722" stroke-width="0.15">May</text>
</g>
<g fill="#0e0f12">
<path d="M12.2,881.3 H24.5 V895.6 H17.9 V887.2 H12.2 Z"/>
<circle cx="28.9" cy="883.9" r="2.9"/>
<path d="M33.8,881.3 H41.8 L36.9,895.6 H28.9 Z"/>
</g>
<text x="49.2" y="895.6" font-size="21" fill="#0e0f12" text-anchor="start" textLength="120.5" lengthAdjust="spacingAndGlyphs" font-weight="bold">TradingView</text>
</svg></body></html>
